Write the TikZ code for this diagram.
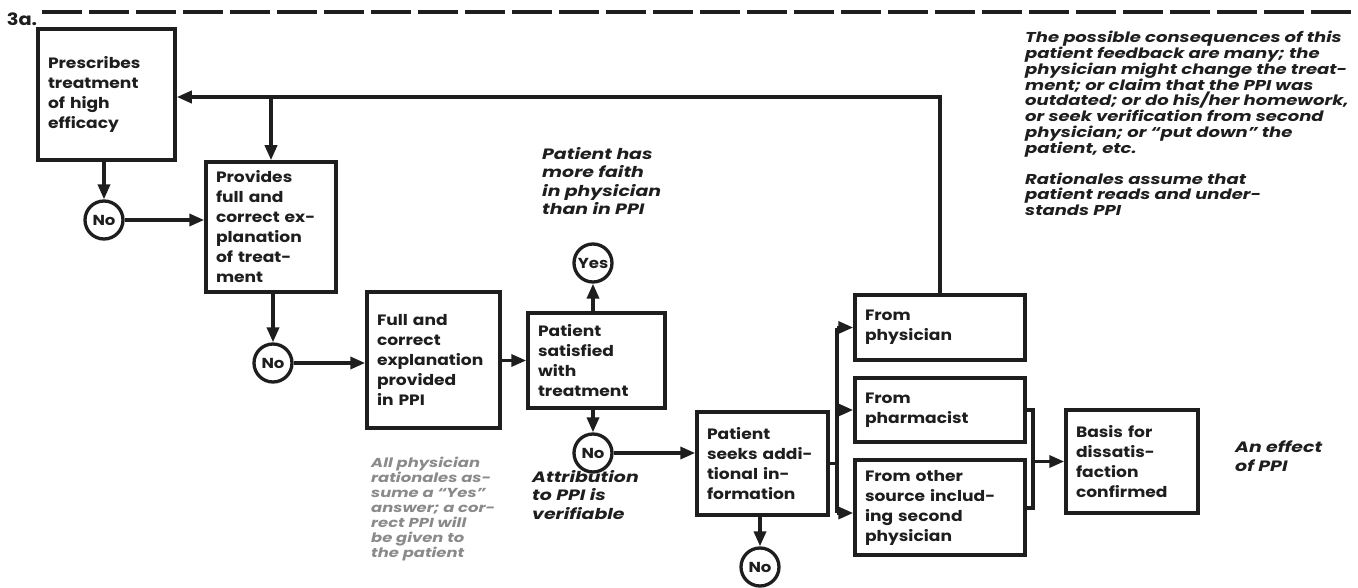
\documentclass[tikz,border=0pt]{standalone}
\usepackage{fontspec}
\newfontfamily\popbox{Poppins}[FakeStretch=1.14, Ligatures=TeX]
\newfontfamily\popnote{Poppins}[FakeStretch=1.26, Ligatures=TeX]
\usetikzlibrary{arrows.meta}
\definecolor{ink}{HTML}{1E1E1E}
\definecolor{notegray}{HTML}{8A8A8A}
\newcommand\bxfont{\popbox\bfseries\fontsize{15}{20}\selectfont\hyphenpenalty=10000 }
\newcommand\ntfont{\popnote\bfseries\itshape\fontsize{15}{18.5}\selectfont}
\newcommand\ntsmall{\popnote\bfseries\itshape\fontsize{14.3}{15.8}\selectfont}
\newcommand\ntgray{\popnote\bfseries\itshape\fontsize{13}{15}\selectfont}
\newcommand\crfont{\popbox\bfseries\fontsize{14.5}{14.5}\selectfont}
\tikzset{
  box/.style={draw=ink, text=ink, line width=3.5pt, inner xsep=10pt, inner ysep=0pt,
    align=left, font=\bxfont},
  circ/.style={circle, draw=ink, text=ink, line width=3.3pt, minimum size=38pt,
    inner sep=0pt, font=\crfont},
  note/.style={anchor=north west, inner sep=0pt, align=left, text=ink, font=\ntfont},
  conn/.style={draw=ink, line width=3.5pt},
  arr/.style={conn, -{Triangle[length=15pt,width=12pt]}}
}
\begin{document}
\begin{tikzpicture}[x=1pt,y=-1pt]
\useasboundingbox (0,0) rectangle (1358,588);

% heading rule and label
\draw[ink, line width=4pt, dash pattern=on 40pt off 7pt] (42,12) -- (1358,12);
\node[anchor=center, text=ink, font=\popbox\bfseries\fontsize{17}{17}\selectfont] (lbl) at (22,19) {3a.};

% process boxes
\node[box, text width=117pt, minimum height=131pt] (b1) at (106.5,94.5) {Prescribes\\treatment\\of high\\efficacy};
\node[box, text width=110pt, minimum height=130pt] (b2) at (271,227) {Provides\\full and\\correct ex-\\planation\\of treat-\\ment};
\node[box, text width=113pt, minimum height=136pt] (b3) at (433.5,360) {Full and\\correct\\explanation\\provided\\in PPI};
\node[box, text width=117pt, minimum height=95pt] (b4) at (596.5,360.5) {Patient\\satisfied\\with\\treatment};
\node[box, text width=111pt, minimum height=103pt] (b5) at (762.5,463.5) {Patient\\seeks addi-\\tional in-\\formation};
\node[box, text width=150pt, minimum height=65pt] (bp) at (940,327.5) {From\\physician};
\node[box, text width=150pt, minimum height=64pt] (bm) at (940,410) {From\\pharmacist};
\node[box, text width=150pt, minimum height=95pt] (bo) at (940,507.5) {From other\\source includ-\\ing second\\physician};
\node[box, text width=112pt, minimum height=103pt] (bb) at (1132,461.5) {Basis for\\dissatis-\\faction\\confirmed};

% decision circles
\node[circ] (no1) at (104,220) {No};
\node[circ] (no2) at (273,363) {No};
\node[circ] (yes) at (593,263) {Yes};
\node[circ] (no3) at (593,453) {No};
\node[circ] (no4) at (760,567) {No};

% notes
\node[note, font=\ntsmall] (n1) at (1025,31) {The possible consequences of this\\patient feedback are many; the\\physician might change the treat-\\ment; or claim that the PPI was\\outdated; or do his/her homework,\\or seek verification from second\\physician; or ``put down'' the\\patient, etc.\\[15pt]Rationales assume that\\patient reads and under-\\stands PPI};
\node[note] (n2) at (542,147) {Patient has\\more faith\\in physician\\than in PPI};
\node[note, text=notegray, font=\ntgray] (n3) at (371,457) {All physician\\rationales as-\\sume a ``Yes''\\answer; a cor-\\rect PPI will\\be given to\\the patient};
\node[note] (n4) at (532,470) {Attribution\\to PPI is\\verifiable};
\node[note] (n5) at (1235,441) {An effect\\of PPI};

% helper coordinates
\coordinate (fb) at (0,97);
\coordinate (sx) at (837,0);
\coordinate (ob) at (0,513);
\coordinate (bx) at (1033,0);
\coordinate (bo2) at (1033,508);

% main flow
\draw[arr] (no1 |- b1.south) -- (no1);
\draw[arr] (no1) -- (no1 -| b2.west);
\draw[arr] (no2 |- b2.south) -- (no2);
\draw[arr] (no2) -- (no2 -| b3.west);
\draw[arr] (b3.east |- b4.west) -- (b4.west);
\draw[arr] (yes |- b4.north) -- (yes);
\draw[arr] (no3 |- b4.south) -- (no3);
\draw[arr] (no3) -- (no3 -| b5.west);
\draw[arr] (no4 |- b5.south) -- (no4);

% fan-out to information sources
\draw[conn] (b5.east) -- (b5.east -| sx);
\draw[conn] (sx |- bp.west) -- (sx |- ob);
\draw[arr] (sx |- bp.west) -- (bp.west);
\draw[arr] (sx |- bm.west) -- (bm.west);
\draw[arr] (sx |- ob) -- (bo.west |- ob);

% merge into the outcome
\draw[conn] (bm.east) -| (bo2) -- (bo2 -| bo.east);
\draw[arr] (bx |- bb.west) -- (bb.west);

% feedback loop to the physician
\draw[arr] (bp.north) |- (fb -| b1.east);
\draw[arr] (b2.north |- fb) -- (b2.north);
\end{tikzpicture}
\end{document}
